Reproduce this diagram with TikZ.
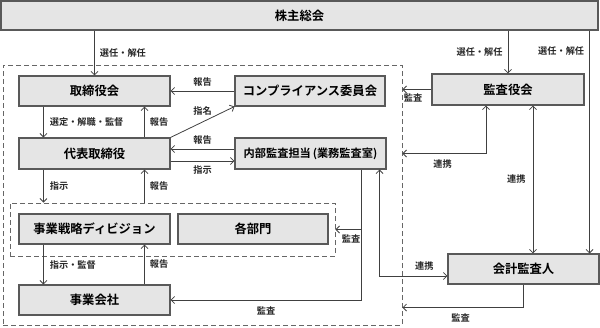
\documentclass[tikz,border=0pt]{standalone}
\usepackage{fontspec}
\setmainfont{Noto Sans CJK JP}[BoldFont={* Bold}]
\usetikzlibrary{arrows.meta,positioning,calc}

\begin{document}
\begin{tikzpicture}[
    x=1pt, y=-1pt,
    block/.style={
        rectangle,
        draw=black!65,
        fill=black!10,
        line width=1.1pt,
        inner sep=0pt,
        minimum width=151pt,
        minimum height=30pt,
        font=\fontsize{12.3}{14}\selectfont\bfseries
    },
    group/.style={
        rectangle,
        draw=black!60,
        line width=0.9pt,
        dash pattern=on 5pt off 3pt,
        inner sep=0pt
    },
    lbl/.style={
        font=\fontsize{9.2}{11}\selectfont\bfseries,
        text=black!85,
        inner sep=1pt
    },
    arrow/.style={
        -{Straight Barb[length=3.5pt,width=7pt]},
        draw=black!75,
        line width=0.8pt
    },
    twoway/.style={
        {Straight Barb[length=3.5pt,width=7pt]}-{Straight Barb[length=3.5pt,width=7pt]},
        draw=black!75,
        line width=0.8pt
    }
]
\useasboundingbox (0,0) rectangle (600,327);

% Gruppen
\node[group, minimum width=399pt, minimum height=260pt] (outer) at (202.5,195) {};
\node[group, minimum width=325pt, minimum height=53pt] (inner) at (172.5,229.5) {};

% Hauptknoten
\node[block, minimum width=597pt, minimum height=29pt] (kabu) at (299.5,15.5) {株主総会};
\node[block] (torishimari) at (94.5,91) {取締役会};
\node[block, minimum width=150pt] (comp) at (310,91) {コンプライアンス委員会};
\node[block, minimum width=152pt, minimum height=31pt] (kansayaku) at (508,89.5) {監査役会};
\node[block, minimum height=31pt] (daihyo) at (94.5,153.5) {代表取締役};
\node[block, minimum height=31pt, font=\fontsize{11.2}{13}\selectfont\bfseries] (naibu) at (310.5,153.5) {内部監査担当\,(業務監査室)};
\node[block] (senryaku) at (94.5,229) {事業戦略ディビジョン};
\node[block, minimum width=150pt] (bumon) at (253,229) {各部門};
\node[block] (jigyo) at (94.5,300) {事業会社};
\node[block] (kaikei) at (523.5,269) {会計監査人};

% Hilfspunkte
\coordinate (l) at ([xshift=25pt]torishimari.south west);
\coordinate (r) at ([xshift=-26pt]torishimari.south east);
\coordinate (kk) at ([xshift=-10pt]kaikei.north east);
\coordinate (ks) at ([xshift=-22pt]kansayaku.south);
\coordinate (kr) at ([xshift=25pt]kansayaku.south);
\coordinate (na) at ([xshift=-25pt]naibu.south east);
\coordinate (nb) at ([xshift=-7pt]naibu.south east);

% Wahl
\draw[arrow] (kabu.south -| torishimari.north) -- node[lbl, right=4pt]{選任・解任} (torishimari.north);
\draw[arrow] (kabu.south -| kansayaku.north) -- node[lbl, left=4pt]{選任・解任} (kansayaku.north);
\draw[arrow] (kabu.south -| kk) -- node[lbl, pos=0.09, left=4pt]{選任・解任} (kk);

% Vorstand
\draw[arrow] (comp.west) -- node[lbl, above=3pt]{報告} (torishimari.east);
\draw[arrow] (daihyo.north east) -- node[lbl, above=5pt]{指名} (comp.south west);
\draw[arrow] (l) -- node[lbl, right=5pt]{選定・解職・監督} (l |- daihyo.north);
\draw[arrow] (r |- daihyo.north) -- node[lbl, right=4pt]{報告} (r);
\draw[arrow] ([yshift=4.5pt]naibu.west) -- node[lbl, above=3pt]{報告} ([yshift=4.5pt]daihyo.east);
\draw[arrow] ([yshift=-7.5pt]daihyo.east) -- node[lbl, below=3pt]{指示} ([yshift=-7.5pt]naibu.west);
\draw[arrow] (l |- daihyo.south) -- node[lbl, right=5pt]{指示} (l |- inner.north);
\draw[arrow] (r |- inner.north) -- node[lbl, right=4pt]{報告} (r |- daihyo.south);
\draw[arrow] (l |- senryaku.south) -- node[lbl, right=5pt]{指示・監督} (l |- jigyo.north);
\draw[arrow] (r |- jigyo.north) -- node[lbl, right=4pt]{報告} (r |- senryaku.south);

% Prüfung
\draw[arrow] (kansayaku.west) -- node[lbl, pos=0.63, below=3pt]{監査} (kansayaku.west -| outer.east);
\draw[twoway] (ks |- kansayaku.south) |- node[lbl, pos=0.76, below=5pt]{連携} (outer.east |- naibu.east);
\draw[twoway] (kr |- kansayaku.south) -- node[lbl, pos=0.5, left=6pt]{連携} (kr |- kaikei.north);
\draw[arrow] (na |- naibu.south) |- node[lbl, pos=0.75, below=5pt]{監査} (jigyo.east);
\draw[arrow] (na |- inner.east) -- node[lbl, pos=0.4, below=4pt]{監査} (inner.east);
\draw[twoway] (nb |- naibu.south) |- node[lbl, pos=0.83, above=4pt]{連携} ([yshift=-7pt]kaikei.west);
\draw[arrow] (kaikei.south) -- ++(0,23) coordinate (kb) -- node[lbl, pos=0.52, below=5pt]{監査} (kb -| outer.east);

\end{tikzpicture}
\end{document}
